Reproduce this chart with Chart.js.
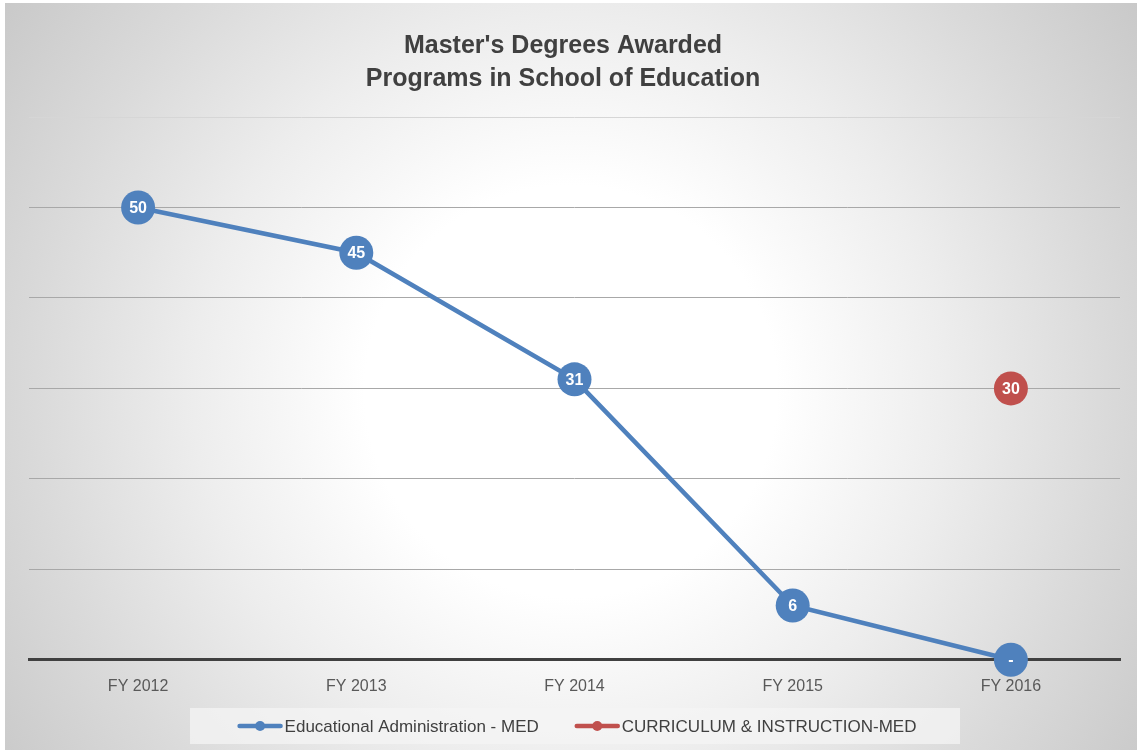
<!DOCTYPE html>
<html>
<head>
<meta charset="utf-8">
<script src="https://cdn.jsdelivr.net/npm/chart.js@4.4.1/dist/chart.umd.min.js"></script>
<style>
  html, body { margin: 0; padding: 0; background: #ffffff; }
  #frame {
    position: absolute; left: 5px; top: 3px; width: 1132px; height: 747px;
    background: radial-gradient(circle farthest-corner at 50% 52%, #ffffff 0%, #ffffff 30%, #ededed 55%, #dadada 78%, #c9c9c9 100%);
  }
  canvas { display: block; }
</style>
</head>
<body>
<div id="frame"><canvas id="chart" width="1132" height="747"></canvas></div>
<script>
// Fiscal years on the horizontal axis
const years = ['FY 2012', 'FY 2013', 'FY 2014', 'FY 2015', 'FY 2016'];
// Master's degrees awarded per program
const eduAdminMed = [50, 45, 31, 6, 0];
const curriculumInstructionMed = [null, null, null, null, 30];
const seriesNames = ['Educational Administration - MED', 'CURRICULUM & INSTRUCTION-MED'];
const titleLines = ["Master's Degrees Awarded", 'Programs in School of Education'];

const BLUE = '#4f81bd';
const RED = '#c0504d';
const FONT = "'Liberation Sans', Arial, sans-serif";

// White value labels centred inside each marker; zero reads as a dash
const valueLabels = {
  id: 'valueLabels',
  afterDatasetsDraw(chart) {
    const ctx = chart.ctx;
    ctx.save();
    ctx.fillStyle = '#ffffff';
    ctx.font = 'bold 16px ' + FONT;
    ctx.textAlign = 'center';
    ctx.textBaseline = 'middle';
    chart.data.datasets.forEach((ds, i) => {
      chart.getDatasetMeta(i).data.forEach((pt, j) => {
        const v = ds.data[j];
        if (v === null || v === undefined) return;
        ctx.fillText(v === 0 ? '-' : String(v), pt.x, pt.y + 1);
      });
    });
    ctx.restore();
  }
};

// Legend row with line-and-marker samples on a light panel
const legendRow = {
  id: 'legendRow',
  afterDraw(chart) {
    const ctx = chart.ctx;
    const cy = 723, sampleW = 45, gap = 2, itemGap = 36;
    ctx.save();
    ctx.font = '17px ' + FONT;
    const items = chart.data.datasets.map(ds => ({
      text: ds.label, color: ds.borderColor, w: sampleW + gap + ctx.measureText(ds.label).width
    }));
    const total = items.reduce((s, it) => s + it.w, 0) + itemGap * (items.length - 1);
    const cx = 572;
    ctx.fillStyle = 'rgba(244,244,244,0.75)';
    ctx.fillRect(185, 705, 770, 36);
    let x = cx - total / 2;
    items.forEach(it => {
      ctx.strokeStyle = it.color;
      ctx.lineWidth = 4.5;
      ctx.lineCap = 'round';
      ctx.beginPath();
      ctx.moveTo(x + 2, cy);
      ctx.lineTo(x + sampleW - 2, cy);
      ctx.stroke();
      ctx.fillStyle = it.color;
      ctx.beginPath();
      ctx.arc(x + sampleW / 2, cy, 5, 0, Math.PI * 2);
      ctx.fill();
      ctx.fillStyle = '#404040';
      ctx.textAlign = 'left';
      ctx.textBaseline = 'middle';
      ctx.fillText(it.text, x + sampleW + gap, cy + 1);
      x += it.w + itemGap;
    });
    ctx.restore();
  }
};

new Chart(document.getElementById('chart'), {
  type: 'line',
  data: {
    labels: years,
    datasets: [
      {
        label: seriesNames[0], data: eduAdminMed,
        borderColor: BLUE, backgroundColor: BLUE, borderWidth: 4.5,
        pointRadius: 17, pointHoverRadius: 17, pointBorderWidth: 0,
        pointBackgroundColor: BLUE, tension: 0, clip: false
      },
      {
        label: seriesNames[1], data: curriculumInstructionMed,
        borderColor: RED, backgroundColor: RED, borderWidth: 4.5,
        pointRadius: 17, pointHoverRadius: 17, pointBorderWidth: 0,
        pointBackgroundColor: RED, tension: 0, clip: false
      }
    ]
  },
  options: {
    responsive: false,
    animation: false,
    events: [],
    layout: { padding: { left: 0, right: 16, top: 0, bottom: 45 } },
    plugins: {
      legend: { display: false },
      tooltip: { enabled: false },
      title: {
        display: true,
        text: titleLines,
        color: '#404040',
        font: { family: FONT, size: 25, weight: 'bold', lineHeight: 1.32 },
        padding: { top: 27, bottom: 21 }
      }
    },
    scales: {
      x: {
        offset: true,
        grid: { display: false },
        border: { display: true, color: '#404040', width: 3 },
        ticks: { color: '#595959', font: { family: FONT, size: 16 }, padding: 9 }
      },
      y: {
        min: 0, max: 60,
        afterFit(scale) { scale.width = 24; },
        ticks: { display: false, stepSize: 10 },
        border: { display: false },
        grid: {
          drawTicks: false,
          lineWidth: 1,
          color: c => c.tick.value === 0 ? 'rgba(0,0,0,0)' : (c.tick.value === 60 ? '#d6d6d6' : '#a8a8a8')
        }
      }
    }
  },
  plugins: [valueLabels, legendRow]
});
</script>
</body>
</html>
